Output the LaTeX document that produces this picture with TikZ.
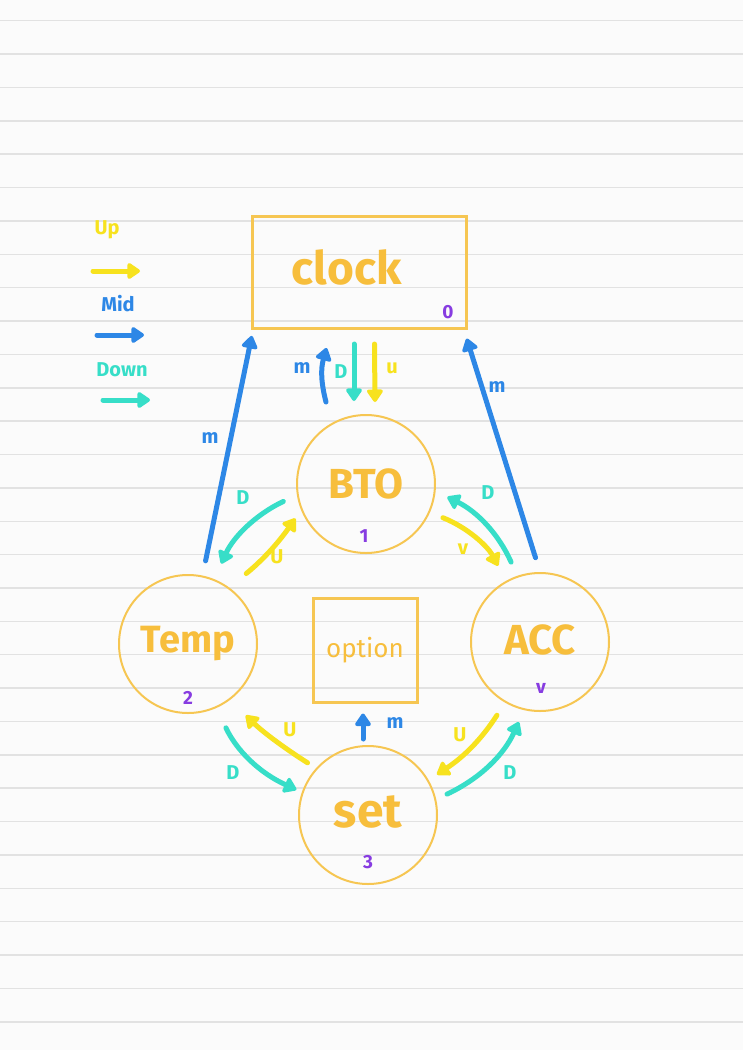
\documentclass[tikz,border=0pt]{standalone}
\usepackage{fontspec}
\setmainfont{Fira Sans}
\usetikzlibrary{arrows.meta}
\definecolor{paper}{RGB}{251,251,251}
\definecolor{rulegray}{RGB}{226,226,226}
\definecolor{mygold}{RGB}{246,198,82}
\definecolor{myorange}{RGB}{247,190,60}
\definecolor{myyellow}{RGB}{247,226,30}
\definecolor{myblue}{RGB}{45,135,230}
\definecolor{myteal}{RGB}{55,222,200}
\definecolor{mypurple}{RGB}{135,60,225}

\begin{document}
\begin{tikzpicture}[x=1pt, y=-1pt,
  state/.style={circle, draw=mygold, line width=2pt, minimum size=138pt, inner sep=0pt, text=myorange},
  box/.style={rectangle, draw=mygold, line width=3pt, inner sep=0pt, text=myorange},
  num/.style={text=mypurple, font=\fontsize{19}{19}\selectfont\bfseries},
  lbl/.style={font=\fontsize{20}{20}\selectfont\bfseries},
  arr/.style={line width=5pt, line cap=round, -{Triangle[length=14pt,width=18pt,round]}}]
\useasboundingbox (0,0) rectangle (743,1050);
\fill[paper] (0,0) rectangle (743,1050);
\foreach \k in {0,...,30}
  \draw[rulegray, line width=1.5pt] (0,{20.7+33.37*\k}) -- (743,{20.7+33.37*\k});
% legend
\node[lbl, text=myyellow] (up) at (107,230) {Up};
\node[lbl, text=myblue] (mid) at (118,304) {Mid};
\node[lbl, text=myteal] (down) at (122,370) {Down};
\foreach \c/\x/\y in {myyellow/93/271, myblue/97/335, myteal/103/400}
  \draw[arr, \c] (\x,\y) -- ++(47,0);
% states
\node[box, minimum width=214pt, minimum height=112pt, font=\fontsize{46}{46}\selectfont\bfseries] (clock) at (359.5,272.5) {\raisebox{10pt}{clock}\hspace*{26pt}};
\node[state, font=\fontsize{42}{42}\selectfont\bfseries] (bto) at (366,484) {BTO};
\node[state, font=\fontsize{38}{38}\selectfont\bfseries] (temp) at (188,644) {\raisebox{-6pt}{Temp}};
\node[state, font=\fontsize{42}{42}\selectfont\bfseries] (acc) at (540,642) {\raisebox{4pt}{ACC}};
\node[state, font=\fontsize{48}{48}\selectfont\bfseries] (set) at (368,815) {\raisebox{6pt}{set}};
\node[box, minimum width=104pt, minimum height=104pt, font=\fontsize{26}{26}\selectfont] (option) at (365,650) {option};
\node[num] (n0) at (448,312) {0};
\node[num] (n1) at (364,536) {1};
\node[num] (n2) at (188,698) {2};
\node[num] (n4) at (541,688) {v};
\node[num] (n3) at (368,862) {3};
% mid
\draw[arr, myblue, shorten <=15pt, shorten >=6pt] (temp.78) -- ([xshift=2pt]clock.south west);
\draw[arr, myblue, shorten <=15pt, shorten >=9pt] (acc.90) -- ([xshift=-4pt]clock.south east);
\draw[arr, myblue] ([xshift=-40pt,yshift=12pt]bto.north) to[bend left=15] ([xshift=-33pt,yshift=-18pt]clock.south);
\draw[arr, myblue, shorten <=6pt, shorten >=10pt] ([xshift=-5pt]set.north) -- ([xshift=-2pt]option.south);
% down
\draw[arr, myteal] ([xshift=-5.5pt,yshift=-14pt]clock.south) -- ([xshift=-12pt,yshift=13pt]bto.north);
\draw[arr, myteal, shorten <=15pt, shorten >=17pt] (bto.189) to[bend right=20] (temp.68);
\draw[arr, myteal, shorten <=15pt, shorten >=13pt] (acc.109) to[bend right=20] (bto.354);
\draw[arr, myteal, shorten <=22pt, shorten >=6pt] (temp.294) to[bend right=20] (set.161);
\draw[arr, myteal, shorten <=12pt, shorten >=13pt] (set.13) to[bend right=20] (acc.257);
% up
\draw[arr, myyellow] ([xshift=15pt,yshift=-14pt]clock.south) -- ([xshift=9pt,yshift=12pt]bto.north);
\draw[arr, myyellow, shorten <=22pt, shorten >=10pt] (temp.54) to[bend right=8] (bto.202);
\draw[arr, myyellow, shorten <=14pt, shorten >=17pt] (bto.336) to[bend left=20] (acc.119);
\draw[arr, myyellow, shorten <=10pt, shorten >=22pt] (set.138) to[bend left=6] (temp.307);
\draw[arr, myyellow, shorten <=15pt, shorten >=10pt] (acc.240) to[bend left=12] (set.30);
% labels
\node[lbl, text=myblue] (lm1) at (210,438) {m};
\node[lbl, text=myblue] (lm2) at (497,387) {m};
\node[lbl, text=myblue] (lm3) at (302,368) {m};
\node[lbl, text=myblue] (lm4) at (395,723) {m};
\node[lbl, text=myteal] (ld1) at (341,372) {D};
\node[lbl, text=myteal] (ld2) at (243,498) {D};
\node[lbl, text=myteal] (ld3) at (488,493) {D};
\node[lbl, text=myteal] (ld4) at (233,773) {D};
\node[lbl, text=myteal] (ld5) at (510,773) {D};
\node[lbl, text=myyellow] (lu1) at (392,368) {u};
\node[lbl, text=myyellow] (lu2) at (277,557) {U};
\node[lbl, text=myyellow] (lu3) at (463,549) {v};
\node[lbl, text=myyellow] (lu4) at (290,730) {U};
\node[lbl, text=myyellow] (lu5) at (460,735) {U};
\end{tikzpicture}
\end{document}
